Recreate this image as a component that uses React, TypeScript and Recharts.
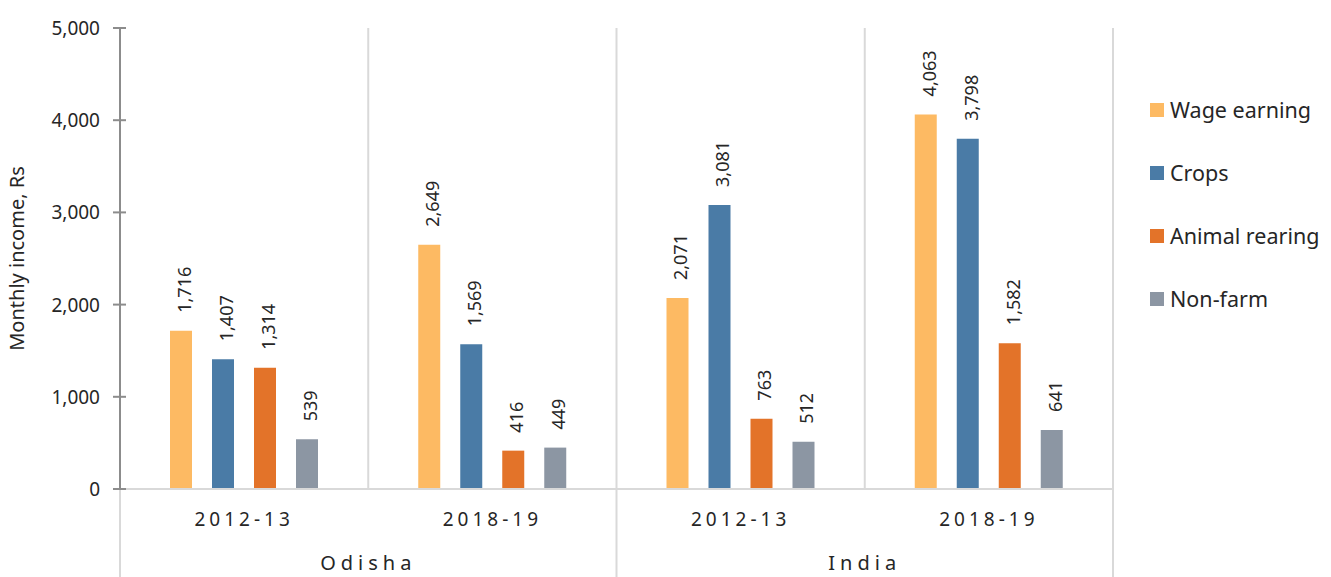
import React from 'react';
import { BarChart, Bar, XAxis, YAxis, CartesianGrid, Legend, LabelList } from 'recharts';

const periods = ['2012-13', '2018-19', '2012-13', '2018-19'];
const regions = ['Odisha', 'Odisha', 'India', 'India'];
const wageEarning = [1716, 2649, 2071, 4063];
const crops = [1407, 1569, 3081, 3798];
const animalRearing = [1314, 416, 763, 1582];
const nonFarm = [539, 449, 512, 641];
const yTicks = [0, 1000, 2000, 3000, 4000, 5000];

const seriesKeys = ['wage', 'crops', 'animal', 'nonfarm'];
const seriesNames = ['Wage earning', 'Crops', 'Animal rearing', 'Non-farm'];
const seriesColors = ['#FDBA63', '#4A7BA6', '#E37329', '#8C96A3'];

const data = periods.map((p, i) => ({
  period: p,
  region: regions[i],
  wage: wageEarning[i],
  crops: crops[i],
  animal: animalRearing[i],
  nonfarm: nonFarm[i],
}));

const FONT = '"Noto Sans", Lato, sans-serif';
const TEXT = '#262626';
const W = 1331;
const H = 577;
const LEGEND_W = 185;
const MARGIN = { top: 28, right: 218 - LEGEND_W, bottom: 0, left: 0 };
const PERIOD_H = 45;
const REGION_H = 43;

const fmt = (v: number) => v.toLocaleString('en-US');

const YTick = (props: any) => {
  const { x, y, payload } = props;
  const axisX = x + 20;
  return (
    <g>
      <line x1={axisX - 7} x2={axisX + 6} y1={y} y2={y} stroke="#8c8c8c" strokeWidth={2} />
      <text x={x} y={y} textAnchor="end" dominantBaseline="central" fontSize={19} fill={TEXT} fontFamily={FONT}>
        {fmt(payload.value)}
      </text>
    </g>
  );
};

const PeriodTick = (props: any) => {
  const { x, y, payload } = props;
  return (
    <text x={x} y={y + 30} textAnchor="middle" dominantBaseline="central" fontSize={19} fill={TEXT}
      fontFamily={FONT} letterSpacing={4}>
      {payload.value}
    </text>
  );
};

const RegionTick = (props: any) => {
  const { x, y, payload, index } = props;
  const half = payload.offset || 0;
  const top = y - PERIOD_H;
  const bottom = H;
  const elems: any[] = [];
  if (index % 2 === 0) {
    elems.push(
      <line key="l" x1={x - half} x2={x - half} y1={top} y2={bottom} stroke="#d9d9d9" strokeWidth={2} />
    );
    elems.push(
      <text key="t" x={x + half} y={y + 28} textAnchor="middle" dominantBaseline="central" fontSize={20}
        fill={TEXT} fontFamily={FONT} letterSpacing={5}>
        {payload.value}
      </text>
    );
  }
  if (index === periods.length - 1) {
    elems.push(
      <line key="r" x1={x + half} x2={x + half} y1={top} y2={bottom} stroke="#d9d9d9" strokeWidth={2} />
    );
  }
  return <g>{elems}</g>;
};

const BarLabel = (props: any) => {
  const { x, y, width, value } = props;
  const cx = x + width / 2 + 3;
  const cy = y - 18;
  return (
    <text x={cx} y={cy} transform={`rotate(-90, ${cx}, ${cy})`} textAnchor="start" dominantBaseline="central"
      fontSize={18} fill={TEXT} fontFamily={FONT}>
      {fmt(value)}
    </text>
  );
};

const LegendContent = () => (
  <div style={{ fontFamily: FONT, color: TEXT, fontSize: 21.5, width: LEGEND_W }}>
    {seriesNames.map((n, i) => (
      <div key={n} style={{ display: 'flex', alignItems: 'center', height: 63 }}>
        <span style={{ display: 'inline-block', width: 14, height: 14, background: seriesColors[i], marginRight: 6 }} />
        <span>{n}</span>
      </div>
    ))}
  </div>
);

export default function App() {
  return (
    <div style={{ position: 'absolute', left: 0, top: 0, width: W, height: H, background: '#fff' }}>
      <BarChart width={W} height={H} data={data} margin={MARGIN} barSize={22} barGap={20}>
        <CartesianGrid
          horizontal={false}
          stroke="#d9d9d9"
          strokeWidth={2}
          verticalCoordinatesGenerator={({ offset }: any) =>
            [0, 1, 2, 3, 4].map((i) => offset.left + (i * offset.width) / 4)
          }
        />
        <XAxis
          xAxisId="period"
          dataKey="period"
          height={PERIOD_H}
          tickLine={false}
          tickSize={0}
          tickMargin={0}
          axisLine={{ stroke: '#d9d9d9', strokeWidth: 2 }}
          tick={<PeriodTick />}
          interval={0}
        />
        <XAxis
          xAxisId="region"
          dataKey="region"
          height={REGION_H}
          tickLine={false}
          tickSize={0}
          tickMargin={0}
          axisLine={false}
          tick={<RegionTick />}
          interval={0}
        />
        <YAxis
          width={120}
          domain={[0, 5000]}
          ticks={yTicks}
          interval={0}
          tickLine={false}
          tickSize={0}
          tickMargin={20}
          axisLine={{ stroke: '#8c8c8c', strokeWidth: 2 }}
          tick={<YTick />}
          label={{
            value: 'Monthly income, Rs',
            angle: -90,
            position: 'insideLeft',
            dx: 12,
            style: { textAnchor: 'middle', fontSize: 20, fill: TEXT, fontFamily: FONT },
          }}
        />
        <Legend
          layout="vertical"
          align="right"
          verticalAlign="top"
          content={<LegendContent />}
          wrapperStyle={{ position: 'absolute', left: 1150, top: 78, width: LEGEND_W }}
        />
        {seriesKeys.map((k, i) => (
          <Bar key={k} dataKey={k} name={seriesNames[i]} xAxisId="period" fill={seriesColors[i]}
            isAnimationActive={false}>
            <LabelList dataKey={k} content={<BarLabel />} />
          </Bar>
        ))}
      </BarChart>
    </div>
  );
}
